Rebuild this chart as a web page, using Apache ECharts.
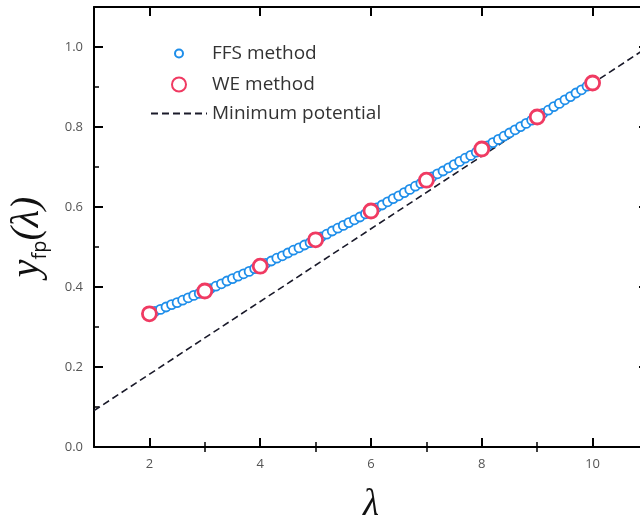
<!DOCTYPE html>
<html>
<head>
<meta charset="utf-8">
<script src="https://cdn.jsdelivr.net/npm/echarts@6/dist/echarts.min.js"></script>
<style>
html,body{margin:0;padding:0;background:#fff;overflow:hidden;width:640px;height:520px;}
#main{width:648px;height:520px;}
</style>
</head>
<body>
<div id="main"></div>
<script>
// ---- data ----
const lambdaFFS = [2.0,2.1,2.2,2.3,2.4,2.5,2.6,2.7,2.8,2.9,
  3.0,3.1,3.2,3.3,3.4,3.5,3.6,3.7,3.8,3.9,
  4.0,4.1,4.2,4.3,4.4,4.5,4.6,4.7,4.8,4.9,
  5.0,5.1,5.2,5.3,5.4,5.5,5.6,5.7,5.8,5.9,
  6.0,6.1,6.2,6.3,6.4,6.5,6.6,6.7,6.8,6.9,
  7.0,7.1,7.2,7.3,7.4,7.5,7.6,7.7,7.8,7.9,
  8.0,8.1,8.2,8.3,8.4,8.5,8.6,8.7,8.8,8.9,
  9.0,9.1,9.2,9.3,9.4,9.5,9.6,9.7,9.8,9.9,
  10.0];
const yFFS = [0.333,0.339,0.344,0.350,0.356,0.361,0.367,0.373,0.379,0.384,
  0.390,0.396,0.402,0.408,0.415,0.421,0.427,0.433,0.439,0.446,
  0.452,0.459,0.465,0.472,0.478,0.485,0.492,0.498,0.505,0.511,
  0.518,0.525,0.532,0.540,0.547,0.554,0.561,0.568,0.575,0.583,
  0.590,0.598,0.605,0.613,0.621,0.628,0.636,0.644,0.652,0.659,
  0.667,0.675,0.683,0.690,0.698,0.706,0.714,0.722,0.729,0.737,
  0.745,0.753,0.761,0.769,0.777,0.785,0.793,0.801,0.809,0.817,
  0.825,0.834,0.842,0.851,0.859,0.868,0.876,0.885,0.893,0.902,
  0.910];
const lambdaWE = [2,3,4,5,6,7,8,9,10];
const yWE = [0.333,0.390,0.452,0.518,0.590,0.667,0.745,0.825,0.910];
const lambdaMinPot = [1,11];
const yMinPot = [0.091,1.0];
const xMajorTicks = [2,4,6,8,10];
const xMinorTicks = [3,5,7,9];
const yMajorTicks = [0,0.2,0.4,0.6,0.8,1.0];
const yMinorTicks = [0.1,0.3,0.5,0.7,0.9];
const seriesNames = ['FFS method','WE method','Minimum potential'];

const zip = (a,b) => a.map((v,i)=>[v,b[i]]);

const chart = echarts.init(document.getElementById('main'), null, {renderer:'canvas', width:648, height:520});
const font = 'Open Sans';
const axisCol = '#000';
const majorTick = (vals) => ({show:true, inside:true, length:9, customValues: vals, lineStyle:{color:axisCol,width:2}});
const minorTick = (vals) => ({show:true, inside:true, length:5, customValues: vals, lineStyle:{color:axisCol,width:1.5}});
const gridPos = {left:94, right:0, top:7, bottom:73, containLabel:false, outerBoundsMode:'none'};
const baseX = {type:'value', min:1, max:11, splitLine:{show:false}};
const baseY = {type:'value', min:0, max:1.1, splitLine:{show:false}};
const legendText = {fontSize:19, color:'#333', fontFamily:font};

const option = {
  animation:false,
  backgroundColor:'#fff',
  textStyle:{fontFamily:font},
  grid:[Object.assign({},gridPos), Object.assign({},gridPos)],
  xAxis:[
    Object.assign({}, baseX, {gridIndex:0, position:'bottom',
      axisLine:{show:true,onZero:false,lineStyle:{color:axisCol,width:2}},
      axisTick:majorTick(xMajorTicks),
      axisLabel:{show:true, customValues:xMajorTicks, color:'#555', fontSize:13, fontFamily:font, margin:11},
      name:'λ', nameLocation:'middle', nameGap:40,
      nameTextStyle:{fontSize:37, fontStyle:'italic', fontFamily:'Liberation Serif', color:'#111'}}),
    Object.assign({}, baseX, {gridIndex:0, position:'top',
      axisLine:{show:true,onZero:false,lineStyle:{color:axisCol,width:2}},
      axisTick:majorTick(xMajorTicks), axisLabel:{show:false}}),
    Object.assign({}, baseX, {gridIndex:1, position:'bottom',
      axisLine:{show:false}, axisTick:minorTick(xMinorTicks), axisLabel:{show:false}}),
    Object.assign({}, baseX, {gridIndex:1, position:'top',
      axisLine:{show:false}, axisTick:minorTick(xMinorTicks), axisLabel:{show:false}})
  ],
  yAxis:[
    Object.assign({}, baseY, {gridIndex:0, position:'left',
      axisLine:{show:true,onZero:false,lineStyle:{color:axisCol,width:2}},
      axisTick:majorTick(yMajorTicks),
      axisLabel:{show:true, customValues:yMajorTicks, color:'#555', fontSize:13, fontFamily:font, margin:11,
        formatter:(v)=>v.toFixed(1)},
      name:'{i|y}{s|fp}{i|(λ)}', nameLocation:'middle', nameGap:44, nameRotate:90,
      nameTextStyle:{color:'#111', padding:[0,20,0,0], rich:{
        i:{fontSize:40, fontStyle:'italic', fontFamily:'Liberation Serif', lineHeight:46, color:'#111'},
        s:{fontSize:20, fontFamily:font, lineHeight:20, verticalAlign:'bottom', color:'#111'}
      }}}),
    Object.assign({}, baseY, {gridIndex:0, position:'right',
      axisLine:{show:true,onZero:false,lineStyle:{color:axisCol,width:2}},
      axisTick:majorTick(yMajorTicks), axisLabel:{show:false}}),
    Object.assign({}, baseY, {gridIndex:1, position:'left',
      axisLine:{show:false}, axisTick:minorTick(yMinorTicks), axisLabel:{show:false}}),
    Object.assign({}, baseY, {gridIndex:1, position:'right',
      axisLine:{show:false}, axisTick:minorTick(yMinorTicks), axisLabel:{show:false}})
  ],
  legend:[
    {data:[seriesNames[0]], left:174, top:44, orient:'vertical', itemWidth:56, itemHeight:8, padding:0,
      textStyle:legendText},
    {data:[seriesNames[1]], left:171, top:75, orient:'vertical', itemWidth:56, itemHeight:14, padding:0,
      textStyle:legendText},
    {data:[seriesNames[2]], left:150, top:104, orient:'vertical', itemWidth:56, itemHeight:12, padding:0,
      itemStyle:{color:'rgba(0,0,0,0)', borderWidth:0, opacity:0},
      textStyle:legendText}
  ],
  series:[
    {name:seriesNames[2], type:'line', xAxisIndex:0, yAxisIndex:0, data:zip(lambdaMinPot,yMinPot),
      symbol:'none', lineStyle:{color:'#1a1a2a', width:1.6, type:[7,4]}, itemStyle:{color:'#1a1a2a'}, z:2},
    {name:seriesNames[0], type:'scatter', xAxisIndex:0, yAxisIndex:0, data:zip(lambdaFFS,yFFS),
      symbol:'circle', symbolSize:9,
      itemStyle:{color:'#fff', borderColor:'#1E8EEA', borderWidth:1.8, opacity:1}, z:3},
    {name:seriesNames[1], type:'scatter', xAxisIndex:0, yAxisIndex:0, data:zip(lambdaWE,yWE),
      symbol:'circle', symbolSize:14,
      itemStyle:{color:'#fff', borderColor:'#F03A62', borderWidth:2.8, opacity:1}, z:4}
  ]
};
chart.setOption(option);
</script>
</body>
</html>
